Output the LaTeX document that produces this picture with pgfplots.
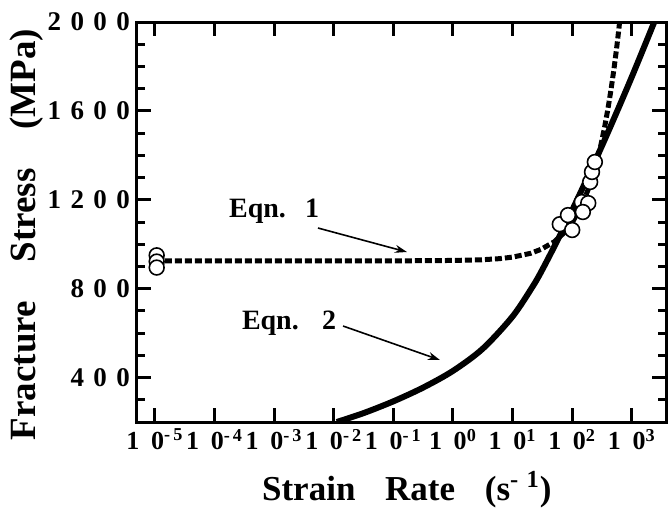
\documentclass[border=0pt]{standalone}
\usepackage{pgfplots}
\pgfplotsset{compat=1.18}
\usepackage{fontspec}
\setmainfont{Liberation Serif}
\newfontfamily\spaced{Liberation Serif}[LetterSpace=35]
\usetikzlibrary{arrows.meta}

% fracture stress vs strain rate, both equations and the test points
\begin{document}
\begin{tikzpicture}
\useasboundingbox (-68.5pt,-44pt) rectangle (265.5pt,211pt);
\begin{axis}[
  at={(0pt,0pt)}, anchor=south west,
  scale only axis, width=264.5pt, height=200pt,
  xmode=log, xmin=5e-6, xmax=3750,
  ymin=200, ymax=2000,
  xtick={1e-5,1e-4,1e-3,1e-2,1e-1,1,10,100,1000},
  xticklabels={
    {1\hspace{.45em}0\textsuperscript{-\,5}},
    {1\hspace{.45em}0\textsuperscript{-\,4}},
    {1\hspace{.45em}0\textsuperscript{-\,3}},
    {1\hspace{.45em}0\textsuperscript{-\,2}},
    {1\hspace{.45em}0\textsuperscript{-\,1}},
    {1\hspace{.45em}0\textsuperscript{0}},
    {1\hspace{.45em}0\textsuperscript{1}},
    {1\hspace{.45em}0\textsuperscript{2}},
    {1\hspace{.45em}0\textsuperscript{3}}},
  xminorticks=false,
  ytick={400,800,1200,1600,2000},
  yticklabels={400,800,1200,1600,2000},
  minor ytick={200,300,...,2000},
  tick align=inside,
  major tick length=7pt, minor tick length=4pt,
  tick style={black, line width=1.5pt},
  axis line style={line width=1.5pt},
  xticklabel style={font=\bfseries\fontsize{13}{13}\selectfont},
  yticklabel style={font=\spaced\bfseries\fontsize{13.5}{13.5}\selectfont},
  xlabel={Strain\hspace{0.6em} Rate\hspace{0.6em} (s\textsuperscript{-\,\,1})},
  xlabel style={font=\bfseries\fontsize{17.5}{18}\selectfont,
    at={(axis description cs:0.51,0)}, anchor=base, yshift=-39pt},
  ylabel={Fracture\hspace{0.8em} Stress\hspace{0.8em} (MPa)},
  ylabel style={font=\bfseries\fontsize{18.5}{19}\selectfont,
    at={(axis description cs:-0.208,0.469)}, anchor=center},
]
% Eqn. 1
\addplot[black, line width=2.5pt, dash pattern=on 3.5pt off 1.5pt] coordinates {
  (1e-5,925) (0.1,925) (1,927) (3,930) (6,935) (10,942) (20,959) (30,977)
  (50,1011) (75,1054) (100,1097) (150,1183) (200,1269) (250,1355) (300,1441)
  (350,1527) (400,1613) (450,1699) (500,1785) (550,1871) (600,1957) (630,2009)};
% Eqn. 2
\addplot[black, line width=3pt, smooth] coordinates {
  (0.01122,200) (0.03162,240) (0.1,293) (0.3162,355) (1,430) (3.162,530)
  (10,675) (21.88,811) (31.62,886) (56.23,1016) (100,1153) (177.8,1296)
  (316.2,1443) (562.3,1596) (1000,1753) (1778,1916) (2512,2015)};
% measured points
\addplot[only marks, mark=*, mark size=3.7pt,
  mark options={fill=white, draw=black, line width=0.8pt}] coordinates {
  (1.07e-5,950) (1.07e-5,922) (1.07e-5,895)
  (62,1090) (100,1064) (85,1131) (145,1190) (186,1185) (151,1145)
  (200,1280) (215,1325) (240,1370)};
\node[font=\bfseries\fontsize{14}{14}\selectfont] at (axis cs:1.0e-3,1149) {Eqn.\hspace{0.35em} 1};
\node[font=\bfseries\fontsize{14}{14}\selectfont] at (axis cs:1.78e-3,645) {Eqn.\hspace{0.5em} 2};
\draw[-{Stealth[length=6pt,width=4pt]}, line width=0.8pt]
  (axis cs:5.43e-3,1073) -- (axis cs:0.169,965);
\draw[-{Stealth[length=6pt,width=4pt]}, line width=0.8pt]
  (axis cs:0.0143,632) -- (axis cs:0.605,479);
\end{axis}
\end{tikzpicture}
\end{document}
